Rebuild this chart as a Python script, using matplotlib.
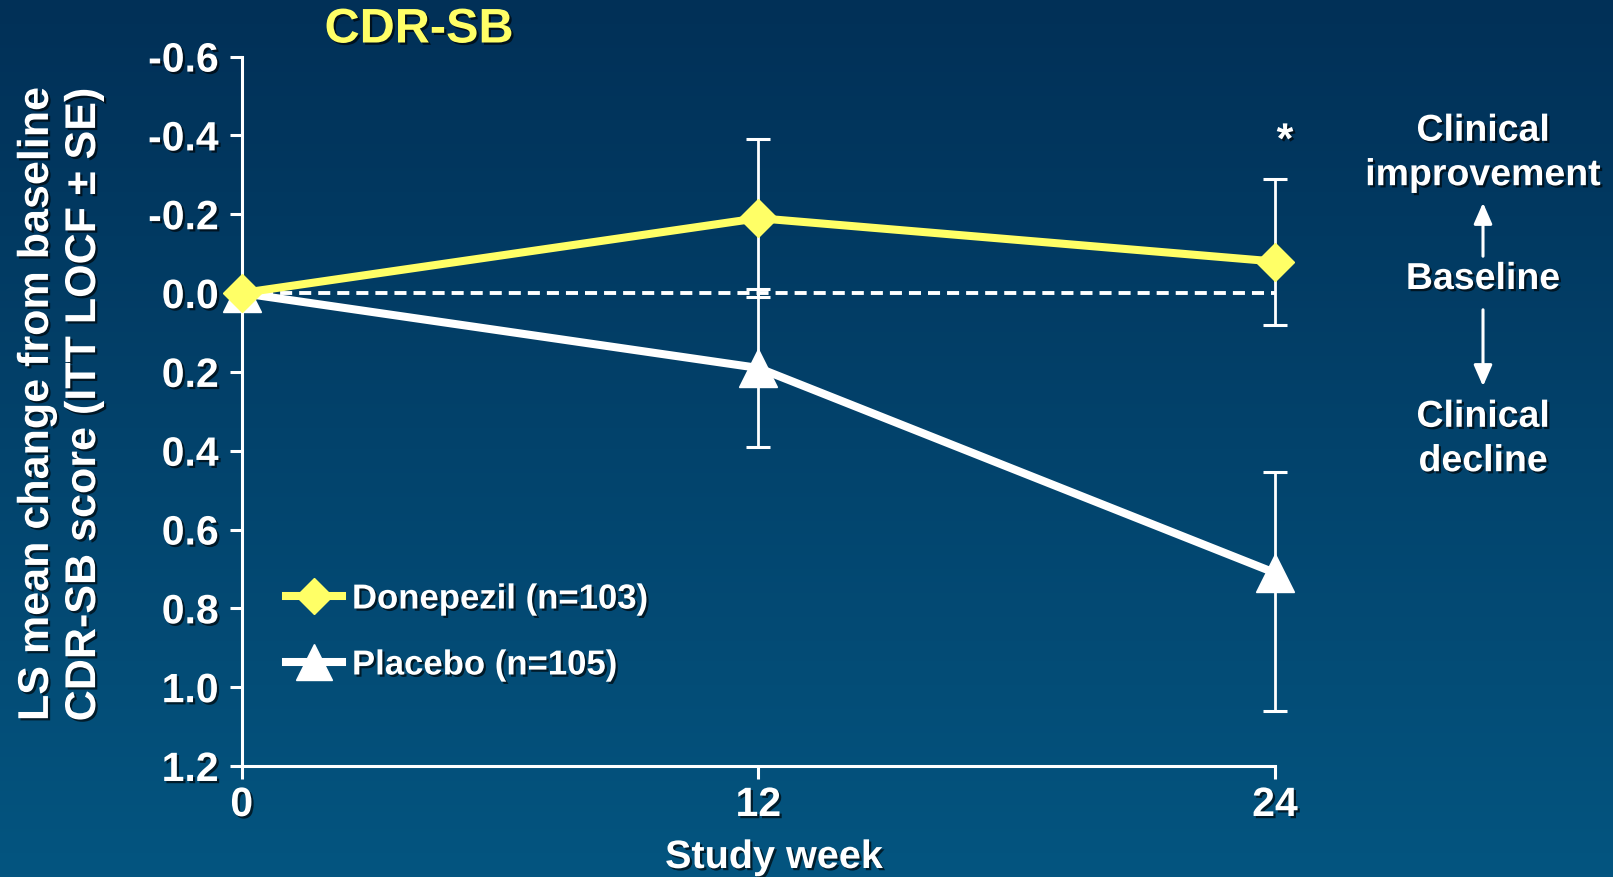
import matplotlib.pyplot as plt
import matplotlib.patheffects as pe
from matplotlib.lines import Line2D
from matplotlib.patches import FancyArrowPatch
import numpy as np

plt.rcParams['font.family'] = ['Liberation Sans', 'DejaVu Sans']
plt.rcParams['font.weight'] = 'bold'

# data
weeks = [0, 12, 24]
donepezil = [0.0, -0.19, -0.08]
donepezil_se_up = [0.0, 0.20, 0.21]    # towards improvement (negative)
donepezil_se_down = [0.0, 0.20, 0.16]
placebo = [0.0, 0.19, 0.71]
placebo_se_up = [0.0, 0.20, 0.255]
placebo_se_down = [0.0, 0.20, 0.35]
y_ticks = [-0.6, -0.4, -0.2, 0.0, 0.2, 0.4, 0.6, 0.8, 1.0, 1.2]
y_labels = ["-0.6", "-0.4", "-0.2", "0.0", "0.2", "0.4", "0.6", "0.8", "1.0", "1.2"]
x_ticks = [0, 12, 24]
series_labels = ["Donepezil (n=103)", "Placebo (n=105)"]

W, H = 1613, 877
fig = plt.figure(figsize=(W / 100, H / 100), dpi=100)

# background gradient
bg = fig.add_axes([0, 0, 1, 1], zorder=0)
top = np.array([1, 48, 87]) / 255
bot = np.array([4, 85, 128]) / 255
t = np.linspace(0, 1, 256)[:, None]
grad = top[None, None, :] * (1 - t[:, :, None]) + bot[None, None, :] * t[:, :, None]
bg.imshow(np.repeat(grad, 2, axis=1), aspect='auto', extent=[0, 1, 0, 1])
bg.axis('off')

shadow = [pe.withSimplePatchShadow(offset=(1.6, -1.6), shadow_rgbFace='black', alpha=0.65)]

def fx(px):
    return px / W

def fy(py):
    return 1 - py / H

ax = fig.add_axes([fx(241.7), fy(766), fx(1275) - fx(241.7), fy(56.6) - fy(766)], zorder=1)
ax.set_facecolor('none')

yellow = '#ffff66'
white = 'white'

# baseline
ax.plot([0, 24], [0, 0], color=white, lw=2.8, dashes=(3.1, 1.8), zorder=1, clip_on=False)

# error bars
ax.errorbar(weeks[1:], donepezil[1:], yerr=[donepezil_se_up[1:], donepezil_se_down[1:]],
            fmt='none', ecolor=white, elinewidth=2, capsize=8.5, capthick=2.2, zorder=2, clip_on=False)
ax.errorbar(weeks[1:], placebo[1:], yerr=[placebo_se_up[1:], placebo_se_down[1:]],
            fmt='none', ecolor=white, elinewidth=2, capsize=8.5, capthick=2.2, zorder=2, clip_on=False)

ax.plot(weeks, placebo, color=white, lw=5.8, marker='^', ms=27, mec=white, mfc=white,
        zorder=3, clip_on=False)
ax.plot(weeks, donepezil, color=yellow, lw=5.8, marker='D', ms=19.4, mec=yellow, mfc=yellow,
        zorder=4, clip_on=False)

ax.set_xlim(0, 24)
ax.set_ylim(1.2, -0.6)
for s in ['top', 'right']:
    ax.spines[s].set_visible(False)
for s in ['left', 'bottom']:
    ax.spines[s].set_color(white)
    ax.spines[s].set_linewidth(2.2)
ax.set_yticks(y_ticks)
ax.set_yticklabels(y_labels)
ax.set_xticks(x_ticks)
ax.tick_params(axis='y', colors=white, length=8.6, width=2.2, labelsize=29.5, pad=8)
ax.tick_params(axis='x', colors=white, length=9.4, width=2.2, labelsize=29.5, pad=5)
for lab in ax.get_xticklabels() + ax.get_yticklabels():
    lab.set_fontweight('bold')
    lab.set_path_effects(shadow)

# legend
handles = [
    Line2D([], [], color=yellow, lw=5.8, marker='D', ms=18.5, mfc=yellow, mec=yellow),
    Line2D([], [], color=white, lw=5.8, marker='^', ms=26, mfc=white, mec=white),
]
leg = ax.legend(handles, series_labels, loc='center left', bbox_to_anchor=(fx(286), fy(632)),
                bbox_transform=fig.transFigure, frameon=False, fontsize=25, handlelength=1.6,
                handletextpad=0.3, labelspacing=0.95, borderpad=0, borderaxespad=0)
for txt in leg.get_texts():
    txt.set_color(white)
    txt.set_fontweight('bold')
    txt.set_path_effects(shadow)

# titles and labels
fig.text(fx(419), fy(30), "CDR-SB", color=yellow, fontsize=35, fontweight='bold',
         ha='center', va='center', path_effects=shadow)
fig.text(fx(60.5), fy(405), "LS mean change from baseline\nCDR-SB score (ITT LOCF \u00b1 SE)",
         color=white, fontsize=31, fontweight='bold', rotation=90, ha='center', va='center',
         multialignment='center', linespacing=1.23, path_effects=shadow)
fig.text(fx(774), fy(857), "Study week", color=white, fontsize=28.5, fontweight='bold',
         ha='center', va='center', path_effects=shadow)
fig.text(fx(1285), fy(142), "*", color=white, fontsize=31, fontweight='bold',
         ha='center', va='center', path_effects=shadow)

# right side annotation
fig.text(fx(1483), fy(153), "Clinical\nimprovement", color=white, fontsize=27, fontweight='bold',
         ha='center', va='center', linespacing=1.3, path_effects=shadow)
fig.text(fx(1483), fy(279), "Baseline", color=white, fontsize=27, fontweight='bold',
         ha='center', va='center', path_effects=shadow)
fig.text(fx(1483), fy(439), "Clinical\ndecline", color=white, fontsize=27, fontweight='bold',
         ha='center', va='center', linespacing=1.3, path_effects=shadow)
arrow = dict(arrowstyle='-|>,head_length=0.8,head_width=0.35', color=white, lw=2.2)
fig.add_artist(FancyArrowPatch((fx(1483), fy(259)), (fx(1483), fy(200)),
               transform=fig.transFigure, mutation_scale=16, **arrow))
fig.add_artist(FancyArrowPatch((fx(1483), fy(307)), (fx(1483), fy(389)),
               transform=fig.transFigure, mutation_scale=16, **arrow))

fig.savefig('out.png', dpi=100)
